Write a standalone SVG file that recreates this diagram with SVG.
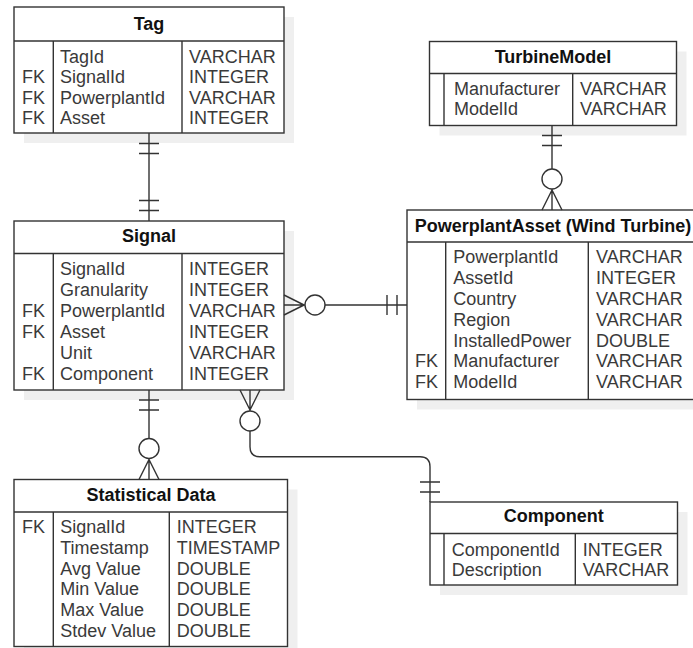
<svg xmlns="http://www.w3.org/2000/svg" width="693" height="648" viewBox="0 0 693 648">
<style>
.sh{fill:#efefef;stroke:none}
.box{fill:#fff;stroke:#333;stroke-width:1.4}
.ln{stroke:#333;stroke-width:1.4;fill:none}
.t{font-family:"Liberation Sans",Arial,sans-serif;font-size:18px;fill:#3a3a3a}
.h{font-family:"Liberation Sans",Arial,sans-serif;font-size:18px;font-weight:bold;fill:#111;text-anchor:middle}
.c{stroke:#333;stroke-width:1.4;fill:none}
.o{stroke:#333;stroke-width:1.4;fill:#fff}
</style>
<rect width="693" height="648" fill="#fff"/>

<g id="tag">
<rect class="sh" x="24" y="17" width="270" height="126"/>
<rect class="box" x="14" y="7" width="270" height="126"/>
<line class="ln" x1="14" y1="41" x2="284" y2="41"/>
<line class="ln" x1="53.3" y1="41" x2="53.3" y2="133"/>
<line class="ln" x1="182" y1="41" x2="182" y2="133"/>
<text class="h" x="149" y="30">Tag</text>
<text class="t"><tspan x="22" y="83">FK</tspan><tspan x="22" y="103.5">FK</tspan><tspan x="22" y="124">FK</tspan></text>
<text class="t"><tspan x="60" y="62.5">TagId</tspan><tspan x="60" y="83">SignalId</tspan><tspan x="60" y="103.5">PowerplantId</tspan><tspan x="60" y="124">Asset</tspan></text>
<text class="t"><tspan x="189" y="62.5">VARCHAR</tspan><tspan x="189" y="83">INTEGER</tspan><tspan x="189" y="103.5">VARCHAR</tspan><tspan x="189" y="124">INTEGER</tspan></text>
</g>

<g id="turbinemodel">
<rect class="sh" x="439.5" y="51.5" width="247" height="84"/>
<rect class="box" x="429.5" y="41.5" width="247" height="84"/>
<line class="ln" x1="429.5" y1="73.5" x2="676.5" y2="73.5"/>
<line class="ln" x1="444" y1="73.5" x2="444" y2="125.5"/>
<line class="ln" x1="572.7" y1="73.5" x2="572.7" y2="125.5"/>
<text class="h" x="553" y="63">TurbineModel</text>
<text class="t"><tspan x="454" y="95">Manufacturer</tspan><tspan x="454" y="115">ModelId</tspan></text>
<text class="t"><tspan x="580" y="95">VARCHAR</tspan><tspan x="580" y="115">VARCHAR</tspan></text>
</g>

<g id="signal">
<rect class="sh" x="24" y="231" width="270" height="169"/>
<rect class="box" x="14" y="221" width="270" height="169"/>
<line class="ln" x1="14" y1="253.5" x2="284" y2="253.5"/>
<line class="ln" x1="53.3" y1="253.5" x2="53.3" y2="390"/>
<line class="ln" x1="182" y1="253.5" x2="182" y2="390"/>
<text class="h" x="149" y="242">Signal</text>
<text class="t"><tspan x="22" y="317">FK</tspan><tspan x="22" y="338">FK</tspan><tspan x="22" y="380">FK</tspan></text>
<text class="t"><tspan x="60" y="275">SignalId</tspan><tspan x="60" y="296">Granularity</tspan><tspan x="60" y="317">PowerplantId</tspan><tspan x="60" y="338">Asset</tspan><tspan x="60" y="359">Unit</tspan><tspan x="60" y="380">Component</tspan></text>
<text class="t"><tspan x="189" y="275">INTEGER</tspan><tspan x="189" y="296">INTEGER</tspan><tspan x="189" y="317">VARCHAR</tspan><tspan x="189" y="338">INTEGER</tspan><tspan x="189" y="359">VARCHAR</tspan><tspan x="189" y="380">INTEGER</tspan></text>
</g>

<g id="powerplantasset">
<rect class="sh" x="417" y="220" width="290" height="189.5"/>
<rect class="box" x="407" y="210" width="290" height="189.5"/>
<line class="ln" x1="407" y1="242" x2="697" y2="242"/>
<line class="ln" x1="445.7" y1="242" x2="445.7" y2="399.5"/>
<line class="ln" x1="588.3" y1="242" x2="588.3" y2="399.5"/>
<text class="h" x="553" y="231.5">PowerplantAsset (Wind Turbine)</text>
<text class="t"><tspan x="415" y="367.3">FK</tspan><tspan x="415" y="388.1">FK</tspan></text>
<text class="t"><tspan x="453.3" y="263.3">PowerplantId</tspan><tspan x="453.3" y="284.1">AssetId</tspan><tspan x="453.3" y="304.9">Country</tspan><tspan x="453.3" y="325.7">Region</tspan><tspan x="453.3" y="346.5">InstalledPower</tspan><tspan x="453.3" y="367.3">Manufacturer</tspan><tspan x="453.3" y="388.1">ModelId</tspan></text>
<text class="t"><tspan x="596" y="263.3">VARCHAR</tspan><tspan x="596" y="284.1">INTEGER</tspan><tspan x="596" y="304.9">VARCHAR</tspan><tspan x="596" y="325.7">VARCHAR</tspan><tspan x="596" y="346.5">DOUBLE</tspan><tspan x="596" y="367.3">VARCHAR</tspan><tspan x="596" y="388.1">VARCHAR</tspan></text>
</g>

<g id="statisticaldata">
<rect class="sh" x="24" y="489.5" width="273.5" height="167"/>
<rect class="box" x="14" y="479.5" width="273.5" height="167"/>
<line class="ln" x1="14" y1="512" x2="287.5" y2="512"/>
<line class="ln" x1="53.3" y1="512" x2="53.3" y2="646.5"/>
<line class="ln" x1="169.3" y1="512" x2="169.3" y2="646.5"/>
<text class="h" x="151" y="501">Statistical Data</text>
<text class="t"><tspan x="22" y="533.3">FK</tspan></text>
<text class="t"><tspan x="60.3" y="533.3">SignalId</tspan><tspan x="60.3" y="554">Timestamp</tspan><tspan x="60.3" y="574.7">Avg Value</tspan><tspan x="60.3" y="595.4">Min Value</tspan><tspan x="60.3" y="616.1">Max Value</tspan><tspan x="60.3" y="636.8">Stdev Value</tspan></text>
<text class="t"><tspan x="176.7" y="533.3">INTEGER</tspan><tspan x="176.7" y="554">TIMESTAMP</tspan><tspan x="176.7" y="574.7">DOUBLE</tspan><tspan x="176.7" y="595.4">DOUBLE</tspan><tspan x="176.7" y="616.1">DOUBLE</tspan><tspan x="176.7" y="636.8">DOUBLE</tspan></text>
</g>

<g id="component">
<rect class="sh" x="440" y="512" width="247.5" height="83"/>
<rect class="box" x="430" y="502" width="247.5" height="83"/>
<line class="ln" x1="430" y1="533.5" x2="677.5" y2="533.5"/>
<line class="ln" x1="444" y1="533.5" x2="444" y2="585"/>
<line class="ln" x1="575.3" y1="533.5" x2="575.3" y2="585"/>
<text class="h" x="553.8" y="522">Component</text>
<text class="t"><tspan x="451.7" y="556">ComponentId</tspan><tspan x="451.7" y="576">Description</tspan></text>
<text class="t"><tspan x="582.7" y="556">INTEGER</tspan><tspan x="582.7" y="576">VARCHAR</tspan></text>
</g>

<g id="connectors">
<!-- Tag - Signal -->
<path class="c" d="M149 133V221M139 143.5H159M139 153.5H159M139 200.5H159M139 210.5H159"/>
<!-- TurbineModel - PowerplantAsset -->
<path class="c" d="M552 125.5V169M552 189V210M542 135.5H562M542 145.5H562M552 190L542 210M552 190L562 210"/>
<circle class="o" cx="552" cy="179" r="10"/>
<!-- Signal - PowerplantAsset -->
<path class="c" d="M284 305H305M325 305H407M304 305L284 295M304 305L284 315M387 295V315M397 295V315"/>
<circle class="o" cx="315" cy="305" r="10"/>
<!-- Signal - Statistical Data -->
<path class="c" d="M149 390V438.5M149 458.5V479.5M139 400H159M139 410H159M149 459.5L139 479.5M149 459.5L159 479.5"/>
<circle class="o" cx="149" cy="448.5" r="10"/>
<!-- Signal - Component -->
<path class="c" d="M250 390V411M250 410L240 390M250 410L260 390M250 431V446.7Q250 456.7 260 456.7H420Q430 456.7 430 466.7V502M420 482H440M420 492H440"/>
<circle class="o" cx="250" cy="421" r="10"/>
</g>
</svg>
